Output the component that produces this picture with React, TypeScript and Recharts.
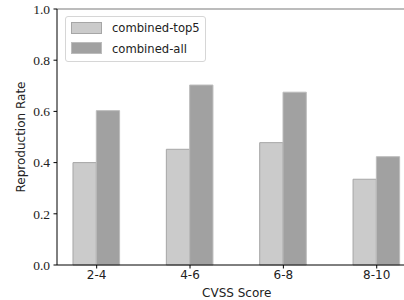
import React from "react";
import { BarChart, Bar, XAxis, YAxis, ReferenceLine } from "recharts";

const categories = ["2-4", "4-6", "6-8", "8-10"];
const top5Values = [0.4, 0.452, 0.478, 0.335];
const allValues = [0.603, 0.703, 0.675, 0.423];
const yTicks = [0, 0.2, 0.4, 0.6, 0.8, 1.0];
const seriesNames = ["combined-top5", "combined-all"];

const data = categories.map((c, i) => ({
  x: i,
  name: c,
  top5: top5Values[i],
  all: allValues[i],
}));

const LIGHT = "#cbcbcb";
const LIGHT_EDGE = "#a6a6a6";
const DARK = "#a1a1a1";
const DARK_EDGE = "#bcbcbc";

const LegendBox = () => (
  <div
    style={{
      position: "absolute",
      left: 65,
      top: 16,
      width: 141,
      height: 46,
      border: "1px solid #d6d6d6",
      borderRadius: 3,
      background: "rgba(255,255,255,0.8)",
      boxSizing: "border-box",
      fontFamily: "DejaVu Sans",
      fontSize: 11.6,
      color: "#222",
    }}
  >
    {seriesNames.map((n, i) => (
      <div key={n}>
        <div
          style={{
            position: "absolute",
            left: 4.5,
            top: 5 + i * 20,
            width: 31,
            height: 11.5,
            background: i === 0 ? LIGHT : DARK,
            border: `1px solid ${i === 0 ? LIGHT_EDGE : DARK_EDGE}`,
            boxSizing: "border-box",
          }}
        />
        <div
          style={{
            position: "absolute",
            left: 46,
            top: 4 + i * 21,
            lineHeight: "14px",
            whiteSpace: "nowrap",
          }}
        >
          {n}
        </div>
      </div>
    ))}
  </div>
);

export default function App() {
  return (
    <div
      style={{
        position: "absolute",
        left: 0,
        top: 0,
        width: 404,
        height: 300,
        overflow: "hidden",
        background: "#fff",
      }}
    >
      <BarChart
        width={420}
        height={300}
        data={data}
        margin={{ top: 9, right: 3.6, bottom: 0, left: 0 }}
        barGap={0}
      >
        <XAxis
          dataKey="x"
          type="number"
          domain={[-0.425, 3.425]}
          allowDataOverflow
          ticks={[0, 1, 2, 3]}
          tickFormatter={(v: number) => categories[v]}
          height={35}
          tickSize={3.5}
          tickMargin={2.3}
          axisLine={{ stroke: "#000", strokeWidth: 1 }}
          tickLine={{ stroke: "#000" }}
          tick={{ fontFamily: "DejaVu Sans", fontSize: 12, fill: "#222" }}
          label={{
            content: () => (
              <text
                x={236.7}
                y={293}
                textAnchor="middle"
                dominantBaseline="central"
                fontFamily="DejaVu Sans"
                fontSize={12}
                fill="#222"
              >
                CVSS Score
              </text>
            ),
          }}
        />
        <YAxis
          type="number"
          domain={[0, 1]}
          ticks={yTicks}
          width={57}
          tickSize={3.5}
          tickMargin={3.5}
          tickFormatter={(v: number) => v.toFixed(1)}
          axisLine={{ stroke: "#000", strokeWidth: 1 }}
          tickLine={{ stroke: "#000" }}
          tick={{ fontFamily: "Liberation Serif", fontSize: 13.5, fill: "#222" }}
          label={{
            content: () => (
              <text
                x={21}
                y={137}
                transform="rotate(-90, 21, 137)"
                textAnchor="middle"
                dominantBaseline="central"
                fontFamily="DejaVu Sans"
                fontSize={12}
                fill="#222"
              >
                Reproduction Rate
              </text>
            ),
          }}
        />
        <ReferenceLine y={1} stroke="#7a7a7a" strokeWidth={1.2} ifOverflow="extendDomain" />
        <Bar
          dataKey="top5"
          name={seriesNames[0]}
          fill={LIGHT}
          stroke={LIGHT_EDGE}
          strokeWidth={1}
          barSize={23.3}
          isAnimationActive={false}
        />
        <Bar
          dataKey="all"
          name={seriesNames[1]}
          fill={DARK}
          stroke={DARK_EDGE}
          strokeWidth={1}
          barSize={23.3}
          isAnimationActive={false}
        />
      </BarChart>
      <LegendBox />
    </div>
  );
}
